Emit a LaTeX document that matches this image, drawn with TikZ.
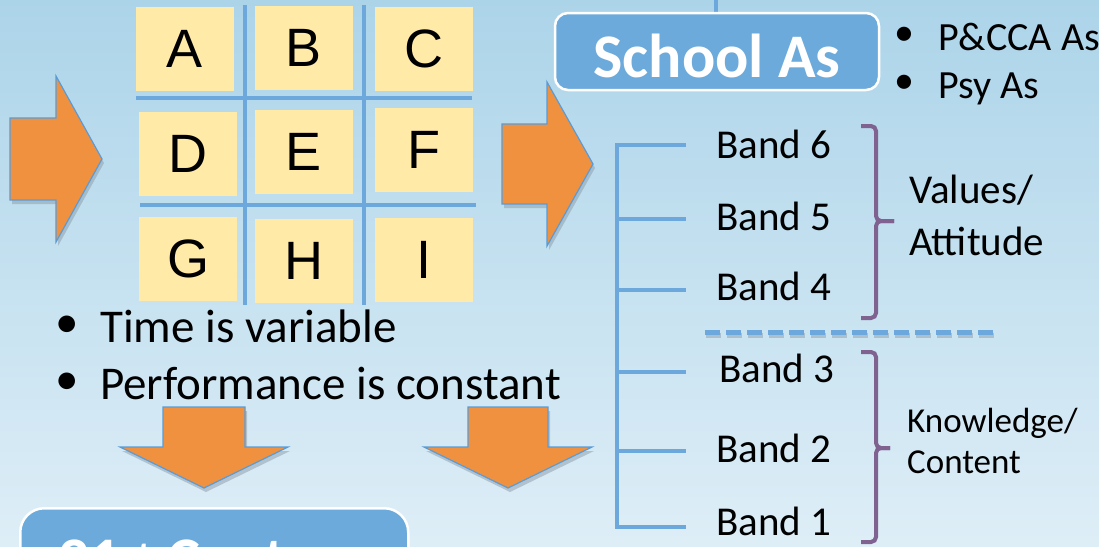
\documentclass[tikz,border=0pt]{standalone}
\usepackage{fontspec}
\setmainfont{Carlito}
\newfontfamily\arialf{Liberation Sans}
\usetikzlibrary{calc}
\definecolor{bgtop}{RGB}{172,212,233}
\definecolor{bgbot}{RGB}{222,238,247}
\definecolor{cellfill}{RGB}{255,234,168}
\definecolor{gridblue}{RGB}{108,168,220}
\definecolor{arroworange}{RGB}{240,145,64}
\definecolor{arrowedge}{RGB}{91,155,213}
\definecolor{boxblue}{RGB}{108,170,219}
\definecolor{bracepurple}{RGB}{128,98,145}
\definecolor{shadowgray}{RGB}{140,155,168}
\begin{document}
\begin{tikzpicture}[x=1pt,y=-1pt,
  cell/.style={fill=cellfill, minimum width=98pt, minimum height=84pt, inner sep=0pt,
    font=\arialf\fontsize{54}{60}\selectfont},
  gridline/.style={draw=gridblue, line width=4.5pt},
  gridshadow/.style={draw=shadowgray, line width=4.5pt, opacity=0.55},
  bigarrow/.style={fill=arroworange, draw=arrowedge, line width=1.2pt, line join=miter},
  arrowshadow/.style={fill=shadowgray, opacity=0.5},
  bluebox/.style={fill=boxblue, draw=white, line width=2.5pt, text=white, inner sep=0pt,
    font=\fontsize{62}{70}\selectfont\bfseries},
  bandtext/.style={anchor=base west, inner sep=0pt, font=\fontsize{41}{48}\selectfont},
  bullettext/.style={anchor=base west, inner sep=0pt},
  brace/.style={draw=bracepurple, line width=4pt, rounded corners=5pt},
  dashline/.style={draw=gridblue, line width=5pt, dash pattern=on 15pt off 6pt},
  dashshadow/.style={draw=shadowgray, line width=5pt, dash pattern=on 15pt off 6pt, opacity=0.5}
]
\useasboundingbox (0,0) rectangle (1099,546);
\clip (0,0) rectangle (1099,546);
\shade[top color=bgtop, bottom color=bgbot] (0,0) rectangle (1099,546);

% ---- grid of cells ----
\node[cell] (A) at (185,49) {A};
\node[cell] (B) at (304,47.5) {B};
\node[cell] (C) at (424,49) {C};
\node[cell] (D) at (188,154) {D};
\node[cell] (E) at (304,152) {E};
\node[cell] (F) at (424,150) {F};
\node[cell] (G) at (188,259) {G};
\node[cell] (H) at (304,261) {H};
\node[cell] (I) at (424,260) {I};

\coordinate (v1t) at (245,5);  \coordinate (v1b) at (245,305);
\coordinate (v2t) at (364,5);  \coordinate (v2b) at (364,305);
\coordinate (h1l) at (136,98); \coordinate (h1r) at (472,98);
\coordinate (h2l) at (140,205); \coordinate (h2r) at (476,205);
\begin{scope}[shift={(1,3)}]
  \draw[gridshadow] (v1t) -- (v1b);
  \draw[gridshadow] (v2t) -- (v2b);
  \draw[gridshadow] (h1l) -- (h1r);
  \draw[gridshadow] (h2l) -- (h2r);
\end{scope}
\draw[gridline] (v1t) -- (v1b);
\draw[gridline] (v2t) -- (v2b);
\draw[gridline] (h1l) -- (h1r);
\draw[gridline] (h2l) -- (h2r);

% ---- big arrows ----
\begin{scope}[shift={(2,4)}]
  \fill[arrowshadow] (10,118) -- (56,118) -- (56,76) -- (102,159) -- (56,242) -- (56,200) -- (10,200) -- cycle;
  \fill[arrowshadow] (502,124) -- (547,124) -- (547,82) -- (593,164) -- (547,246) -- (547,204) -- (502,204) -- cycle;
  \fill[arrowshadow] (163,407) -- (245,407) -- (245,447) -- (288,447) -- (204,488) -- (120,447) -- (163,447) -- cycle;
  \fill[arrowshadow] (468,407) -- (548,407) -- (548,447) -- (592,447) -- (508,488) -- (424,447) -- (468,447) -- cycle;
\end{scope}
\draw[bigarrow] (10,118) -- (56,118) -- (56,76) -- (102,159) -- (56,242) -- (56,200) -- (10,200) -- cycle;
\draw[bigarrow] (502,124) -- (547,124) -- (547,82) -- (593,164) -- (547,246) -- (547,204) -- (502,204) -- cycle;
\draw[bigarrow] (163,407) -- (245,407) -- (245,447) -- (288,447) -- (204,488) -- (120,447) -- (163,447) -- cycle;
\draw[bigarrow] (468,407) -- (548,407) -- (548,447) -- (592,447) -- (508,488) -- (424,447) -- (468,447) -- cycle;

% ---- left bullets ----
\node[bullettext, font=\fontsize{47}{54}\selectfont] (time) at (55,342)
  {\makebox[45pt][l]{\raisebox{5pt}{\textbullet}}Time is variable};
\node[bullettext, font=\fontsize{47}{54}\selectfont] (perf) at (55,399)
  {\makebox[45pt][l]{\raisebox{5pt}{\textbullet}}Performance is constant};

% ---- School As ----
\coordinate (schooltop) at (716,-3);
\draw[gridline] (schooltop) -- (schooltop |- 0,40);
\node[bluebox, rounded corners=13pt, minimum width=324pt, minimum height=77pt,
  text height=51pt, text depth=0pt] (school) at (717,51.5) {School As};

\node[bullettext, font=\fontsize{40}{48}\selectfont] (pcca) at (894,50)
  {\makebox[44pt][l]{\raisebox{5pt}{\textbullet}}P\&CCA As};
\node[bullettext, font=\fontsize{40}{48}\selectfont] (psy) at (894,98)
  {\makebox[44pt][l]{\raisebox{5pt}{\textbullet}}Psy As};

% ---- bands ----
\node[bandtext] (b6) at (716,158) {Band 6};
\node[bandtext] (b5) at (716,230) {Band 5};
\node[bandtext] (b4) at (716,300) {Band 4};
\node[bandtext] (b3) at (719,382) {Band 3};
\node[bandtext] (b2) at (716,462) {Band 2};
\node[bandtext] (b1) at (716,535) {Band 1};

\foreach \n/\y in {6/145,5/219,4/290,3/372,2/451,1/527}{
  \coordinate (j\n) at (617,\y);
  \coordinate (e\n) at (684,\y);
}
\begin{scope}[shift={(1,3)}]
  \draw[gridshadow] (j6) -- (j1);
  \foreach \n in {6,5,4,3,2,1}{\draw[gridshadow] (j\n) -- (e\n);}
\end{scope}
\draw[gridline] (j6) -- (j1);
\foreach \n in {6,5,4,3,2,1}{\draw[gridline, line cap=rect] (j\n) -- (e\n);}

% ---- dashed separator ----
\coordinate (dl) at (705,332);
\coordinate (dr) at (995,332);
\draw[dashshadow] ($(dl)+(1,3)$) -- ($(dr)+(1,3)$);
\draw[dashline] (dl) -- (dr);

% ---- brackets ----
\draw[brace] (861,126) -- (876,126) -- (876,221) -- (894,221);
\draw[brace] (894,221) -- (876,221) -- (876,318) -- (861,318);
\draw[brace] (861,352) -- (876,352) -- (876,448) -- (890,448);
\draw[brace] (890,448) -- (876,448) -- (876,542) -- (861,542);

\node[anchor=base west, inner sep=0pt, align=left, font=\fontsize{41}{52}\selectfont]
  (values) at (909,255) {Values/\\Attitude};
\node[anchor=base west, inner sep=0pt, align=left, font=\fontsize{35}{41}\selectfont]
  (knowledge) at (907,473) {Knowledge/\\Content};

% ---- 21st Century box ----
\node[bluebox, rounded corners=24pt, anchor=north west, minimum width=388pt, minimum height=110pt,
  text height=34pt, text depth=0pt] (century) at (19,507) {21\textsuperscript{st} Century};
\end{tikzpicture}
\end{document}
